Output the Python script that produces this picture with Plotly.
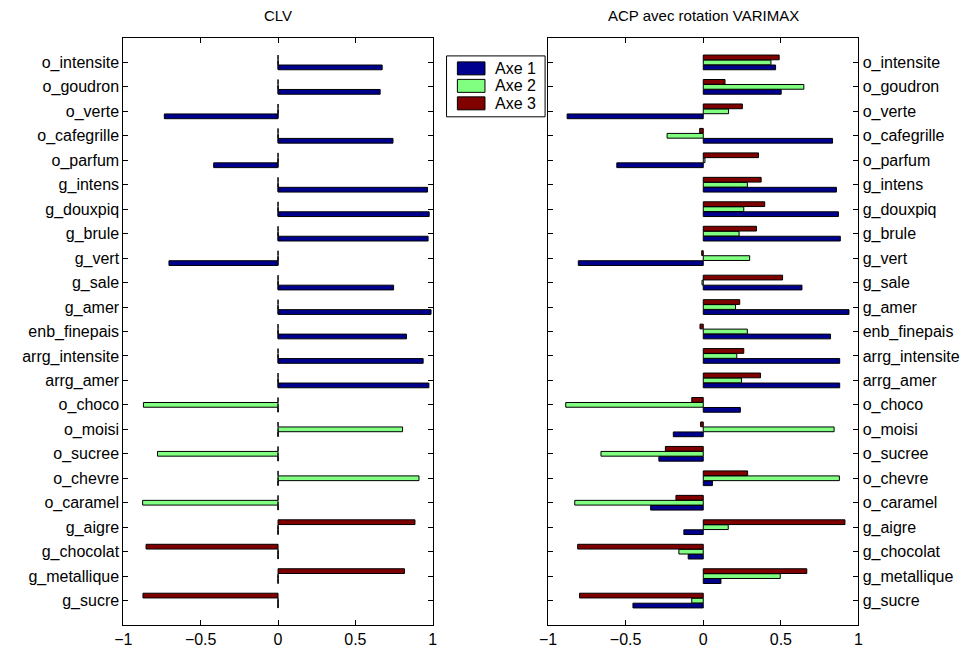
import plotly.graph_objects as go

variables = ["o_intensite", "o_goudron", "o_verte", "o_cafegrille", "o_parfum",
             "g_intens", "g_douxpiq", "g_brule", "g_vert", "g_sale", "g_amer",
             "enb_finepais", "arrg_intensite", "arrg_amer", "o_choco", "o_moisi",
             "o_sucree", "o_chevre", "o_caramel", "g_aigre", "g_chocolat",
             "g_metallique", "g_sucre"]

# CLV loadings (one non-zero component per variable)
clv_axe1 = [0.673, 0.660, -0.735, 0.743, -0.416, 0.966, 0.977, 0.970, -0.705, 0.747,
            0.989, 0.830, 0.938, 0.975, 0, 0, 0, 0, 0, 0, 0, 0, 0]
clv_axe2 = [0, 0, 0, 0, 0, 0, 0, 0, 0, 0, 0, 0, 0, 0,
            -0.870, 0.805, -0.779, 0.911, -0.875, 0, 0, 0, 0]
clv_axe3 = [0, 0, 0, 0, 0, 0, 0, 0, 0, 0, 0, 0, 0, 0, 0, 0, 0, 0, 0,
            0.885, -0.853, 0.817, -0.873]

# PCA with VARIMAX rotation
acp_axe1 = [0.466, 0.502, -0.877, 0.833, -0.557, 0.858, 0.871, 0.883, -0.805, 0.636,
            0.939, 0.820, 0.879, 0.879, 0.239, -0.193, -0.286, 0.059, -0.339,
            -0.125, -0.097, 0.114, -0.453]
acp_axe2 = [0.436, 0.648, 0.163, -0.233, 0.011, 0.284, 0.261, 0.231, 0.299, -0.008,
            0.208, 0.284, 0.216, 0.246, -0.886, 0.843, -0.659, 0.877, -0.828,
            0.161, -0.157, 0.496, -0.074]
acp_axe3 = [0.489, 0.140, 0.252, -0.023, 0.356, 0.373, 0.396, 0.343, -0.010, 0.511,
            0.235, -0.021, 0.261, 0.369, -0.074, -0.017, -0.244, 0.286, -0.176,
            0.913, -0.809, 0.667, -0.797]

series_names = ["Axe 1", "Axe 2", "Axe 3"]
colors = ["#00008F", "#80FF80", "#800000"]
titles = ["CLV", "ACP avec rotation VARIMAX"]
xticks = [-1, -0.5, 0, 0.5, 1]

FONT = "Liberation Sans, Arial, Helvetica, sans-serif"

fig = go.Figure()
panels = [(clv_axe1, clv_axe2, clv_axe3), (acp_axe1, acp_axe2, acp_axe3)]
for p, vals in enumerate(panels):
    xa = "x" if p == 0 else "x2"
    ya = "y" if p == 0 else "y2"
    for name, col, v in zip(series_names, colors, vals):
        fig.add_trace(go.Bar(
            y=variables, x=v, orientation="h", name=name,
            marker=dict(color=col, line=dict(color="black", width=1)),
            xaxis=xa, yaxis=ya, showlegend=False, hoverinfo="x+y"))

cat_order = variables[::-1]
ycommon = dict(type="category", categoryorder="array", categoryarray=cat_order,
               range=[-1, len(variables)], showline=True, linecolor="black",
               linewidth=1, mirror="ticks", ticks="inside", ticklen=5,
               tickcolor="black", showgrid=False, zeroline=False,
               tickfont=dict(family=FONT, size=16, color="black"))
xcommon = dict(range=[-1, 1], tickvals=xticks, showline=True, linecolor="black",
               linewidth=1, mirror="ticks", ticks="inside", ticklen=5,
               tickcolor="black", showgrid=False, zeroline=False,
               tickfont=dict(family=FONT, size=16, color="black"))

y0d, y1d = 1 - 626 / 648, 1 - 38 / 648
fig.update_layout(
    width=963, height=648, margin=dict(l=0, r=0, t=0, b=0),
    paper_bgcolor="white", plot_bgcolor="white",
    barmode="group", bargap=0.388, bargroupgap=0.05,
    xaxis=dict(domain=[116 / 963, 430 / 963], anchor="y", **xcommon),
    yaxis=dict(domain=[y0d, y1d], anchor="x", side="left", **ycommon),
    xaxis2=dict(domain=[547 / 963, 862 / 963], anchor="y2", **xcommon),
    yaxis2=dict(domain=[y0d, y1d], anchor="x2", side="right", **ycommon),
    showlegend=False,
)

# dashed zero line (edges of zero-length bars) in the CLV panel
fig.add_shape(type="line", xref="x", yref="y", x0=0, x1=0, y0=-0.31, y1=22.35,
              line=dict(color="black", width=1, dash="8px,16.5px"))

# titles
for t, (xl, xr) in zip(titles, [(116, 430), (547, 862)]):
    fig.add_annotation(text=t, xref="paper", yref="paper",
                       x=(xl + xr) / 2 / 963, y=1 - 16 / 648, xanchor="center",
                       yanchor="middle", showarrow=False,
                       font=dict(family=FONT, size=15, color="black"))

# legend box (drawn manually to match the original style)
def px_x(v):
    return v / 963

def px_y(v):
    return 1 - v / 648

fig.add_shape(type="rect", xref="paper", yref="paper",
              x0=px_x(444), x1=px_x(544), y0=px_y(117), y1=px_y(56),
              line=dict(color="black", width=1), fillcolor="white")
for i, (name, col) in enumerate(zip(series_names, colors)):
    cy = 68.5 + i * 17.5
    fig.add_shape(type="rect", xref="paper", yref="paper",
                  x0=px_x(455), x1=px_x(483), y0=px_y(cy + 6.5), y1=px_y(cy - 6.5),
                  line=dict(color="black", width=1), fillcolor=col)
    fig.add_annotation(text=name, xref="paper", yref="paper",
                       x=px_x(491), y=px_y(cy), xanchor="left", yanchor="middle",
                       showarrow=False,
                       font=dict(family=FONT, size=16, color="black"))

fig.write_html("out.html",
               config={"displayModeBar": False},
               post_script="document.body.style.margin='0px';"
                           "document.body.style.overflow='hidden';")
